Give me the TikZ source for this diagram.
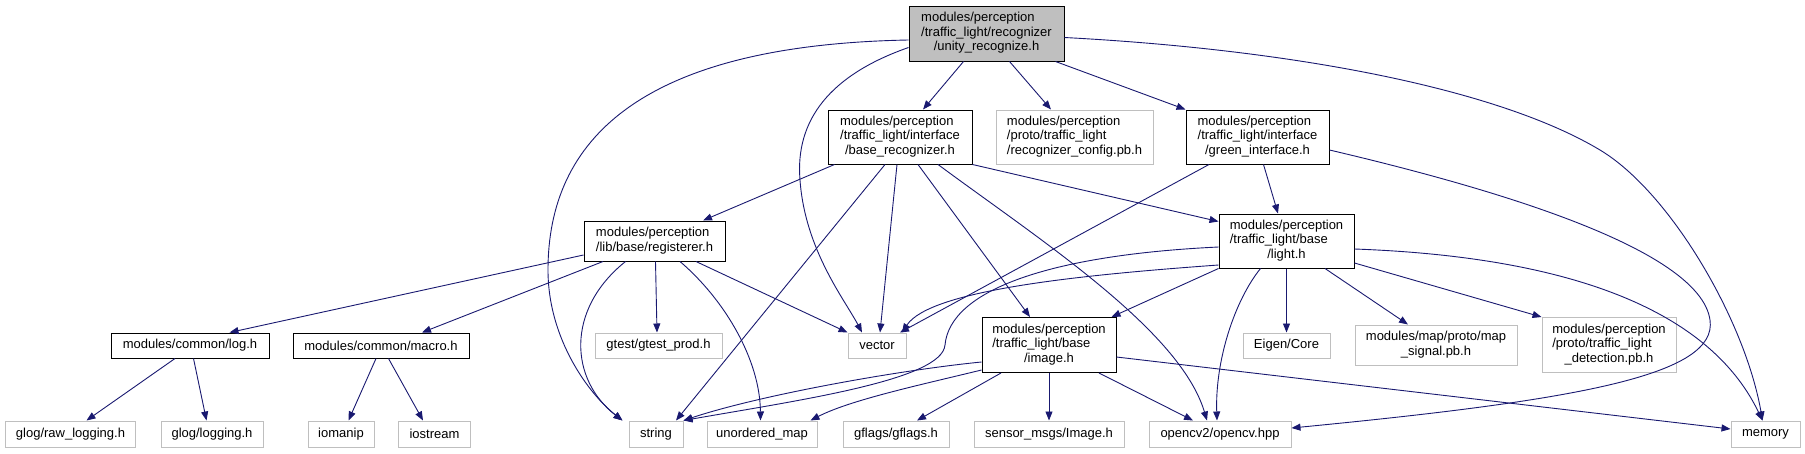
\documentclass[tikz,border=0pt]{standalone}
\usepackage{fontspec}
\setmainfont{Liberation Sans}
\usetikzlibrary{arrows.meta}

\definecolor{edgeblue}{HTML}{191970}
\definecolor{boxgray}{HTML}{BFBFBF}

% all lines left, last line centred
\newcommand{\flabel}[2]{\begin{tabular}{@{}l@{}}#1\\\multicolumn{1}{@{}c@{}}{#2}\end{tabular}}

\begin{document}
\begin{tikzpicture}[x=1pt, y=-1pt, >={Triangle[length=9pt,width=7pt]},
    hdr/.style={draw=black, line width=1pt, inner sep=0pt, minimum height=25pt,
        font=\fontsize{13}{14.5}\selectfont},
    syshdr/.style={hdr, draw=boxgray},
    dep/.style={->, draw=edgeblue, line width=0.9pt}]
    \useasboundingbox (0,0) rectangle (1805,453);

    % Top file
    \node[hdr, fill=boxgray, minimum width=155pt, minimum height=55pt] (root) at (986.5,33.5)
        {\flabel{modules/perception\\/traffic\_light/recognizer}{/unity\_recognize.h}};

    % Second row
    \node[hdr, minimum width=144pt, minimum height=54pt] (brec) at (900,137)
        {\flabel{modules/perception\\/traffic\_light/interface}{/base\_recognizer.h}};
    \node[syshdr, minimum width=157pt, minimum height=54pt] (rconf) at (1074.5,137)
        {\flabel{modules/perception\\/proto/traffic\_light}{/recognizer\_config.pb.h}};
    \node[hdr, minimum width=143pt, minimum height=54pt] (green) at (1257.5,137)
        {\flabel{modules/perception\\/traffic\_light/interface}{/green\_interface.h}};

    % Third row
    \node[hdr, minimum width=141pt, minimum height=40pt] (reg) at (654.5,241)
        {\flabel{modules/perception}{/lib/base/registerer.h}};
    \node[hdr, minimum width=135pt, minimum height=54pt] (light) at (1286.5,241)
        {\flabel{modules/perception\\/traffic\_light/base}{/light.h}};

    % Fourth row
    \node[hdr, minimum width=158pt] (log) at (190,345.5) {modules/common/log.h};
    \node[hdr, minimum width=176pt] (macro) at (381,345.5) {modules/common/macro.h};
    \node[syshdr, minimum width=127pt] (gtest) at (658.5,345.5) {gtest/gtest\_prod.h};
    \node[syshdr, minimum width=58pt] (vec) at (877,345.5) {vector};
    \node[hdr, minimum width=134pt, minimum height=55pt] (img) at (1049,345)
        {\flabel{modules/perception\\/traffic\_light/base}{/image.h}};
    \node[syshdr, minimum width=87pt] (eigen) at (1286.5,345.5) {Eigen/Core};
    \node[syshdr, minimum width=162pt, minimum height=40pt] (mapsig) at (1436,345)
        {\flabel{modules/map/proto/map}{\_signal.pb.h}};
    \node[syshdr, minimum width=134pt, minimum height=55pt] (tldet) at (1609,345)
        {\flabel{modules/perception\\/proto/traffic\_light}{\_detection.pb.h}};

    % Bottom row
    \node[syshdr, minimum width=130pt, minimum height=26pt] (rawlog) at (70.5,434) {glog/raw\_logging.h};
    \node[syshdr, minimum width=102pt, minimum height=26pt] (glog) at (212,434) {glog/logging.h};
    \node[syshdr, minimum width=66pt, minimum height=26pt] (iomanip) at (341,434) {iomanip};
    \node[syshdr, minimum width=72pt, minimum height=26pt] (iostream) at (434.5,434) {iostream};
    \node[syshdr, minimum width=54pt, minimum height=26pt] (str) at (656,434) {string};
    \node[syshdr, minimum width=110pt, minimum height=26pt] (umap) at (762,434) {unordered\_map};
    \node[syshdr, minimum width=106pt, minimum height=26pt] (gflags) at (896,434) {gflags/gflags.h};
    \node[syshdr, minimum width=150pt, minimum height=26pt] (sensor) at (1049,434) {sensor\_msgs/Image.h};
    \node[syshdr, minimum width=142pt, minimum height=26pt] (ocv) at (1220,434) {opencv2/opencv.hpp};
    \node[syshdr, minimum width=69pt, minimum height=26pt] (mem) at (1765.5,434) {memory};

    % Includes of the top file
    \draw[dep] ([xshift=-23pt]root.south) -- ([xshift=23pt]brec.north);
    \draw[dep] ([xshift=23pt]root.south) -- ([xshift=-23.5pt]rconf.north);
    \draw[dep] ([xshift=69pt]root.south) -- (green.north west);
    \draw[dep] ([yshift=-6.5pt]root.west) .. controls (640,45) and (548,140) .. (548,270)
        .. controls (548,340) and (590,395) .. ([xshift=-6pt]str.north west);
    \draw[dep] ([yshift=-14pt]root.west) .. controls (830,75) and (795,120) .. (800,180)
        .. controls (805,250) and (845,300) .. ([xshift=-15pt]vec.north);
    \draw[dep] ([yshift=-4pt]root.east) .. controls (1300,50) and (1500,90) .. (1600,150)
        .. controls (1670,192) and (1745,320) .. ([xshift=-3pt]mem.north);

    % base_recognizer.h
    \draw[dep] ([xshift=7pt]brec.south west) -- ([xshift=48.5pt]reg.north);
    \draw[dep] (brec.south east) -- ([yshift=-8pt]light.north west);
    \draw[dep] ([xshift=-15pt]brec.south) -- ([xshift=20pt]str.north);
    \draw[dep] ([xshift=-3pt]brec.south) -- ([xshift=3pt]vec.north);
    \draw[dep] ([xshift=18pt]brec.south) -- ([xshift=-19pt]img.north);
    \draw[dep] ([xshift=38pt]brec.south) .. controls (1040,240) and (1180,330) .. ([xshift=-13pt]ocv.north);

    % green_interface.h
    \draw[dep] ([xshift=6pt]green.south) -- ([xshift=-8.5pt]light.north);
    \draw[dep] ([xshift=-48.5pt]green.south) -- ([xshift=23pt]vec.north);
    \draw[dep] ([yshift=-13pt]green.east) .. controls (1500,190) and (1700,250) .. (1710,320)
        .. controls (1718,375) and (1580,400) .. ([yshift=6pt]ocv.east);

    % registerer.h
    \draw[dep] ([yshift=-14pt]reg.west) -- ([xshift=39.5pt]log.north);
    \draw[dep] ([xshift=-51.5pt]reg.south) -- ([xshift=41pt]macro.north);
    \draw[dep] ([xshift=-29pt]reg.south) .. controls (565,310) and (570,380) .. ([xshift=-6pt]str.north west);
    \draw[dep] ([xshift=1pt]reg.south) -- ([xshift=-1.5pt]gtest.north);
    \draw[dep] ([xshift=25.5pt]reg.south) .. controls (725,300) and (760,360) .. ([xshift=-1.5pt]umap.north);
    \draw[dep] ([xshift=41.5pt]reg.south) -- (vec.north west);

    % light.h
    \draw[dep] ([yshift=-24pt]light.west) .. controls (1080,275) and (930,290) .. ([xshift=25pt]vec.north);
    \draw[dep] ([yshift=-6pt]light.west) .. controls (1050,255) and (950,290) .. (945,345)
        .. controls (942,380) and (800,400) .. (str.north east);
    \draw[dep] (light.south west) -- ([xshift=-5pt]img.north east);
    \draw[dep] ([xshift=-26pt]light.south) .. controls (1235,300) and (1215,360) .. ([xshift=-3pt]ocv.north);
    \draw[dep] (light.south) -- (eigen.north);
    \draw[dep] ([xshift=38.5pt]light.south) -- ([xshift=-28pt]mapsig.north);
    \draw[dep] ([yshift=-22pt]light.east) -- (tldet.north west);
    \draw[dep] ([yshift=-8pt]light.east) .. controls (1520,255) and (1700,290) .. ([xshift=-3pt]mem.north);

    % image.h
    \draw[dep] ([yshift=-17pt]img.west) .. controls (900,370) and (760,395) .. (str.north east);
    \draw[dep] ([yshift=-25pt]img.west) .. controls (920,385) and (850,400) .. ([xshift=-7pt]umap.north east);
    \draw[dep] ([xshift=-48pt]img.south) -- ([xshift=21pt]gflags.north);
    \draw[dep] (img.south) -- (sensor.north);
    \draw[dep] ([xshift=50pt]img.south) -- ([xshift=-27pt]ocv.north);
    \draw[dep] ([yshift=-12pt]img.east) -- ([yshift=5pt]mem.west);

    % log.h and macro.h
    \draw[dep] ([xshift=-15pt]log.south) -- ([xshift=16pt]rawlog.north);
    \draw[dep] ([xshift=3.5pt]log.south) -- ([xshift=-5.5pt]glog.north);
    \draw[dep] ([xshift=-5pt]macro.south) -- ([xshift=7.5pt]iomanip.north);
    \draw[dep] ([xshift=7.5pt]macro.south) -- ([xshift=-11.5pt]iostream.north);
\end{tikzpicture}
\end{document}
